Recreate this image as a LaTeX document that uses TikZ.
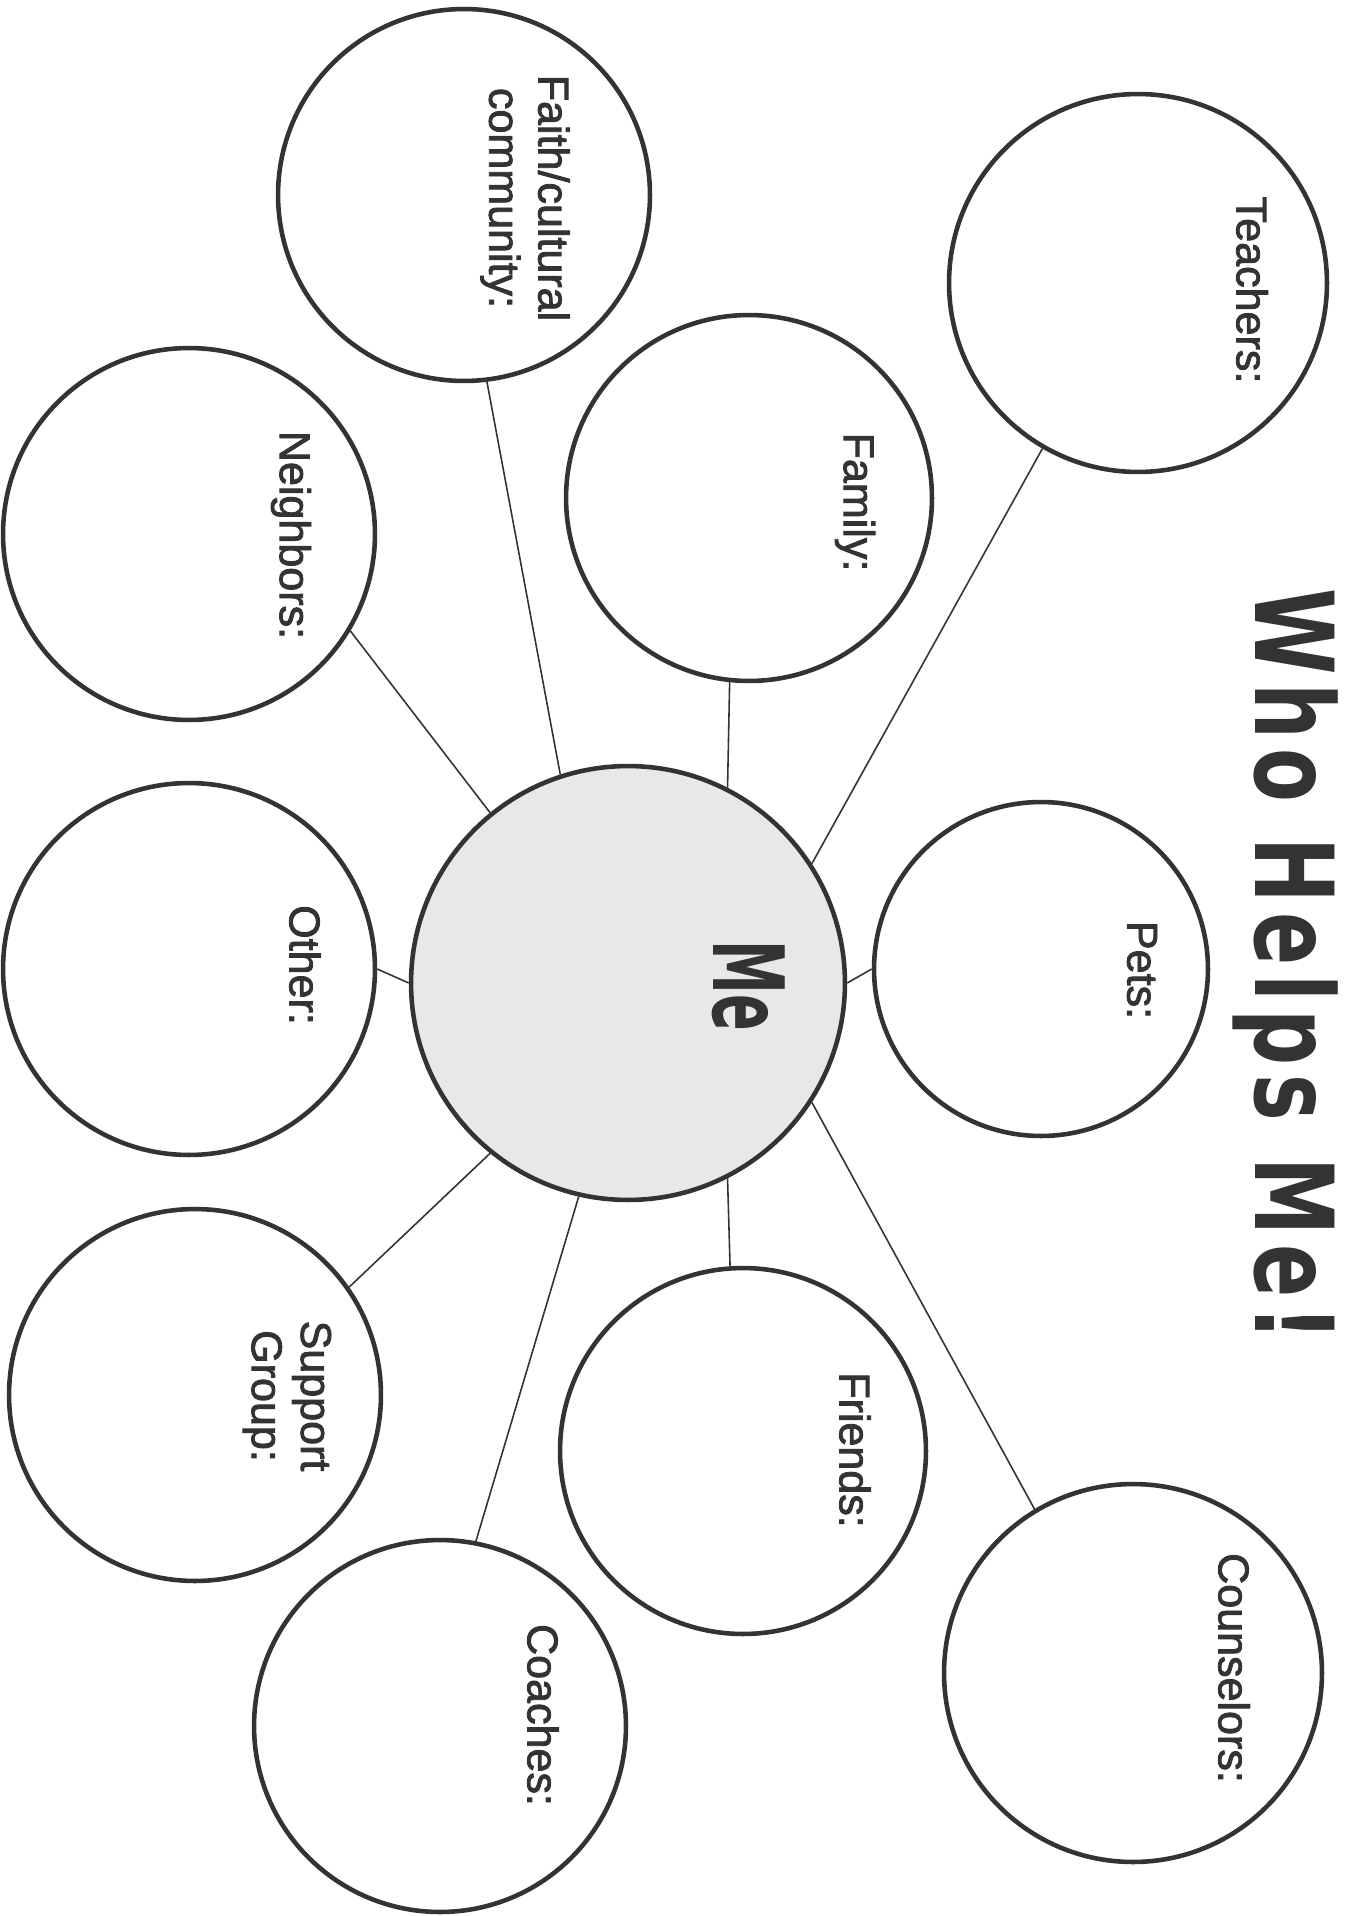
\documentclass[tikz,border=0pt]{standalone}
\usepackage{fontspec}
\setmainfont{Liberation Sans}[FakeBold=2]
\newfontfamily\headfont{DejaVu Sans}[FakeStretch=0.72,LetterSpace=8]
\newfontfamily\mefont{DejaVu Sans}[FakeStretch=0.55]
\usetikzlibrary{positioning}
\definecolor{ink}{HTML}{333333}
\definecolor{megray}{HTML}{E8E8E8}
\tikzset{
  kor/.style={circle,draw=ink,line width=2.6pt,inner sep=0pt,minimum size=#1},
  kor/.default=7.44cm,
  kozep/.style={kor=8.68cm,fill=megray},
  felirat/.style={rotate=-90,text=ink,align=center,font=\fontsize{24.5}{28}\selectfont},
  vonal/.style={draw=ink,line width=0.9pt},
}

\begin{document}
\begin{tikzpicture}[x=0.02cm,y=-0.02cm]
  \useasboundingbox (0,0) rectangle (1346,1916);
  % title
  \node[rotate=-90,text=ink,font=\headfont\bfseries\fontsize{62}{62}\selectfont] (cim) at (1286,965) {Who Helps Me!};
  % circles
  \node[kozep] (me) at (628,983) {};
  \node[rotate=-90,text=ink,font=\mefont\bfseries\fontsize{56}{56}\selectfont] (melbl) at (749,986) {Me};
  \node[kor=7.56cm] (teach) at (1138,283) {};
  \node[kor] (faith) at (464,195) {};
  \node[kor=7.32cm] (fam) at (749,498) {};
  \node[kor] (neigh) at (189,534) {};
  \node[kor=6.68cm] (pets) at (1041,969) {};
  \node[kor] (other) at (189,969) {};
  \node[kor] (supp) at (195,1395) {};
  \node[kor=7.32cm] (friends) at (743,1451) {};
  \node[kor=7.56cm] (couns) at (1133,1673) {};
  \node[kor] (coach) at (440,1726) {};
  % labels
  \node[felirat] (teachlbl) at (1252,290) {Teachers:};
  \node[felirat] (faithlbl) at (525,198) {Faith/cultural\\community:};
  \node[felirat] (famlbl) at (855,502) {Family:};
  \node[felirat] (neighlbl) at (291,535) {Neighbors:};
  \node[felirat] (petslbl) at (1142,970) {Pets:};
  \node[felirat] (otherlbl) at (305,965) {Other:};
  \node[felirat] (supplbl) at (287,1396) {Support\\Group:};
  \node[felirat] (friendslbl) at (855,1450) {Friends:};
  \node[felirat] (counslbl) at (1234,1668) {Counselors:};
  \node[felirat] (coachlbl) at (543,1715) {Coaches:};
  % spokes
  \draw[vonal] (me.33.6) -- (teach.240.5);
  \draw[vonal] (me.63.8) -- (fam.264);
  \draw[vonal] (me.108.4) -- (faith.277.7);
  \draw[vonal] (me.129.9) -- (neigh.329.8);
  \draw[vonal] (me.west) -- (other.east);
  \draw[vonal] (me.231.9) -- (supp.35.5);
  \draw[vonal] (me.257.5) -- (coach.79);
  \draw[vonal] (me.297) -- (friends.94);
  \draw[vonal] (me.327) -- (couns.121);
  \draw[vonal] (me.east) -- (pets.west);
\end{tikzpicture}
\end{document}
